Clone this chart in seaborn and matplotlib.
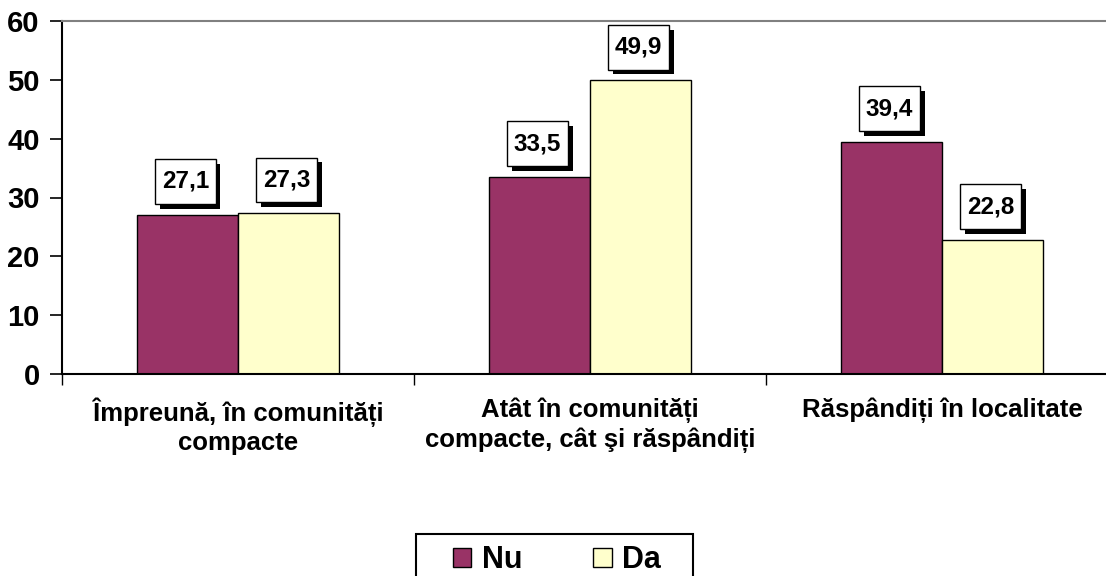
import pandas as pd
import matplotlib
matplotlib.use('Agg')
import matplotlib.pyplot as plt
import matplotlib.patheffects as pe
from matplotlib.patches import Patch, Rectangle
from matplotlib.path import Path
import seaborn as sns

# Data
categories = ['Împreună, în comunități\ncompacte',
              'Atât în comunități\ncompacte, cât şi răspândiți',
              'Răspândiți în localitate']
nu_values = [27.1, 33.5, 39.4]
da_values = [27.3, 49.9, 22.8]
series = ['Nu', 'Da']
colors = {'Nu': '#993366', 'Da': '#FFFFCC'}

df = pd.DataFrame({
    'Categorie': categories * 2,
    'Serie': ['Nu'] * 3 + ['Da'] * 3,
    'Valoare': nu_values + da_values,
})

sns.set_style('white')
plt.rcParams['font.family'] = ['Liberation Sans', 'DejaVu Sans']
plt.rcParams['font.weight'] = 'bold'
for key in ['text.color', 'axes.labelcolor', 'xtick.color', 'ytick.color']:
    plt.rcParams[key] = 'black'


def label_box(x0, y0, width, height, mutation_size):
    # square box, narrower at the sides than top/bottom
    px, py = 0.27 * mutation_size, 0.45 * mutation_size
    x0, y0 = x0 - px, y0 - py
    x1, y1 = x0 + width + 2 * px, y0 + height + 2 * py
    return Path([(x0, y0), (x1, y0), (x1, y1), (x0, y1), (x0, y0)], closed=True)


fig = plt.figure(figsize=(11.06, 5.76), dpi=100)
ax = fig.add_axes([62 / 1106, 1 - 374 / 576, 1056 / 1106, 353 / 576])

sns.barplot(data=df, x='Categorie', y='Valoare', hue='Serie', hue_order=series,
            palette=colors, width=0.574, edgecolor='black', linewidth=1,
            saturation=1, legend=False, ax=ax)

ax.set_ylim(0, 60)
ax.set_xlim(-0.5, 2.5)
ax.set_yticks(range(0, 61, 10))
ax.set_yticklabels([str(v) for v in range(0, 61, 10)], fontsize=21, fontweight='bold')
ax.tick_params(axis='y', direction='out', length=9, width=1.2, pad=7, left=True)
ax.set_xticks(range(3))
ax.set_xticklabels(categories, fontsize=18.5, fontweight='bold', linespacing=1.2)
ax.tick_params(axis='x', length=0, pad=17)
ax.set_xticks([-0.5, 0.5, 1.5, 2.5], minor=True)
ax.tick_params(axis='x', which='minor', direction='out', length=8, width=1, bottom=True)
ax.set_xlabel('')
ax.set_ylabel('')

ax.spines['left'].set_color('black')
ax.spines['left'].set_linewidth(1.5)
ax.spines['bottom'].set_color('black')
ax.spines['bottom'].set_linewidth(1.5)
ax.spines['top'].set_color('#808080')
ax.spines['top'].set_linewidth(1.5)
ax.spines['right'].set_visible(False)

# Value labels in white boxes with black shadow
for cont in ax.containers:
    for bar in cont:
        h = bar.get_height()
        t = ax.annotate(f'{h:.1f}'.replace('.', ','),
                        xy=(bar.get_x() + bar.get_width() / 2, h),
                        xytext=(-1.5, 24), textcoords='offset points',
                        ha='center', va='center', fontsize=17.5, fontweight='bold',
                        bbox=dict(boxstyle=label_box, fc='white', ec='black', lw=1))
        t.get_bbox_patch().set_path_effects([
            pe.SimplePatchShadow(offset=(3.5, -3.5), shadow_rgbFace='black', alpha=1),
            pe.Normal()])

# Legend with a manually drawn frame (wider side padding than top padding)
fig.patches.append(Rectangle((416 / 1106, -0.05), 277 / 1106, 0.05 + 1 - 534 / 576,
                             transform=fig.transFigure, fc='white', ec='black', lw=1.5))
handles = [Patch(facecolor=colors[s], edgecolor='black', label=s) for s in series]
leg = fig.legend(handles=handles, loc='upper center', bbox_to_anchor=(557 / 1106, 1 - 536 / 576),
                 ncol=2, frameon=False, fontsize=22,
                 handlelength=0.6, handleheight=0.6, handletextpad=0.35,
                 columnspacing=2.33, borderpad=0.3, borderaxespad=0)
for txt in leg.get_texts():
    txt.set_fontweight('bold')

fig.savefig('out.png', dpi=100)
